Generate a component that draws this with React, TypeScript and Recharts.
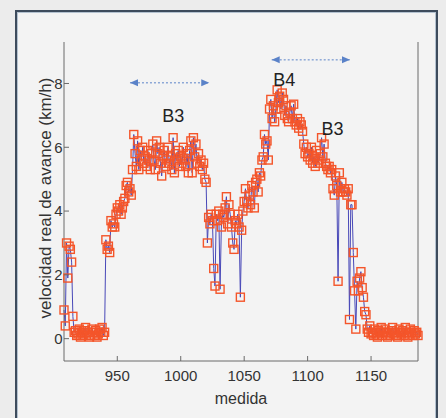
import React from 'react';
import { LineChart, Line, XAxis, YAxis, ReferenceLine, ReferenceDot } from 'recharts';

// Measurement index of the first sample
const medidaInicio = 908;

// velocidad real de avance (km/h), consecutive measurements
const tramoArranque = [0.9, 0.4, 3.0, 1.9, 2.9, 2.8, 2.4, 0.7]; // 908-915
const tramoParada1 = [
  0.2, 0.25, 0.1, 0.15, 0.3, 0.05, 0.2, 0.1, 0.25, 0.35,
  0.15, 0.2, 0.05, 0.1, 0.3, 0.2, 0.1, 0.25, 0.05, 0.15,
  0.3, 0.2, 0.35, 0.1, 0.2,
]; // 916-940
const tramoSubida1 = [
  3.1, 2.8, 2.9, 2.7, 3.7, 3.5, 3.6, 3.5, 3.9, 4.1,
  4.0, 4.2, 3.9, 4.1, 4.3, 4.4, 4.8, 4.9, 4.6, 4.7, 4.5,
]; // 941-961
const tramoMeseta1 = [
  5.3, 6.4, 5.8, 5.4, 6.2, 5.3, 5.9, 5.6, 6.0, 5.5,
  5.7, 5.4, 5.9, 5.6, 5.3, 5.8, 6.1, 5.6, 5.3, 6.2,
  5.8, 6.0, 5.5, 5.1, 5.7, 5.9, 5.4, 5.6, 6.0, 5.5,
  5.7, 5.3, 6.3, 5.2, 5.8, 5.6, 5.9, 5.4, 5.7, 5.5,
  6.0, 5.6, 5.4, 5.8, 5.2, 5.9, 6.2, 5.2, 6.3, 5.7,
  6.1, 5.5, 5.8, 5.4, 5.6, 5.3,
]; // 962-1017
const tramoValle = [
  5.5, 5.0, 4.9, 3.0, 3.8, 3.6, 3.9, 3.7, 2.2, 1.65,
  3.9, 3.7, 4.0, 1.55, 3.5, 3.9, 3.8, 4.1, 4.45, 3.6,
  4.2, 3.9, 3.5, 3.0, 2.8, 3.7, 3.6, 3.9, 3.5, 1.3,
  3.4, 4.0, 4.3,
]; // 1018-1050
const tramoSubida2 = [
  4.7, 4.3, 4.1, 4.5, 4.2, 4.8, 4.6, 4.1, 4.9, 5.0,
  4.6, 5.2, 5.1, 5.6, 5.7, 6.4, 6.1, 6.2, 5.6, 7.2,
  7.5, 6.9, 7.3, 6.8, 7.2, 7.8, 7.4, 7.6, 7.2, 7.7,
  7.5, 7.0, 7.3, 6.9, 6.8, 7.1, 7.3, 6.9, 7.35, 6.8,
  6.7, 6.9, 6.6, 6.8, 6.7, 6.5, 6.1, 5.8, 6.0, 5.7,
]; // 1051-1100
const tramoBajada = [
  5.8, 5.6, 6.0, 5.5, 5.7, 5.4, 5.9, 5.5, 5.6, 5.8,
  6.3, 5.7, 6.1, 5.5, 5.4, 5.3, 5.4, 5.2, 5.3, 4.7,
  4.5, 5.1, 4.8, 1.8, 5.2, 4.6, 4.9, 4.6, 4.7, 4.6,
  4.5, 4.7, 0.6, 4.2, 4.2, 2.7, 1.5, 0.3, 1.8, 1.5,
  1.9, 2.1, 1.6, 1.3, 0.85, 0.75, 0.3, 0.2, 0.4, 0.15,
]; // 1101-1150
const tramoParada2 = [
  0.2, 0.1, 0.3, 0.15, 0.05, 0.25, 0.2, 0.35, 0.1, 0.2,
  0.3, 0.15, 0.05, 0.2, 0.1, 0.25, 0.35, 0.15, 0.2, 0.1,
  0.05, 0.3, 0.2, 0.15, 0.25, 0.1, 0.35, 0.2, 0.05, 0.15,
  0.3, 0.2, 0.1, 0.25, 0.15, 0.2, 0.1,
]; // 1151-1187

const velocidad = [
  ...tramoArranque, ...tramoParada1, ...tramoSubida1, ...tramoMeseta1,
  ...tramoValle, ...tramoSubida2, ...tramoBajada, ...tramoParada2,
];

const xTicks = [950, 1000, 1050, 1100, 1150];
const yTicks = [0, 2, 4, 6, 8];
const xDomain = [908, 1187];
const yDomain = [-0.7, 9.3];

// Annotations
const flecha1 = { desde: 960, hasta: 1022.5, nivel: 8.02 };
const flecha2 = { desde: 1071.7, hasta: 1133.4, nivel: 8.74 };
const etiquetas = [
  { texto: 'B3', x: 994.1, y: 6.98 },
  { texto: 'B4', x: 1081.6, y: 8.13 },
  { texto: 'B3', x: 1119.7, y: 6.6 },
];

const data = velocidad.map((v, i) => ({ medida: medidaInicio + i, velocidad: v }));

const FONT = '"Liberation Sans", Arial, sans-serif';
const AXIS = '#6a6a6a';
const TXT = '#333333';
const ARROW = '#5a82c8';

const TickBottom = (p: any) => (
  <g>
    <line x1={p.x} x2={p.x} y1={p.y} y2={p.y - 5} stroke={AXIS} />
    <text x={p.x} y={p.y + 20} textAnchor="middle" fontSize={15} fill={TXT} fontFamily={FONT}>
      {p.payload.value}
    </text>
  </g>
);
const TickTop = (p: any) => (
  <line x1={p.x} x2={p.x} y1={p.y} y2={p.y + 5} stroke={AXIS} />
);
const TickLeft = (p: any) => (
  <g>
    <line x1={p.x} x2={p.x + 5} y1={p.y} y2={p.y} stroke={AXIS} />
    <text x={p.x - 1.5} y={p.y + 5.4} textAnchor="end" fontSize={15} fill={TXT} fontFamily={FONT}>
      {p.payload.value}
    </text>
  </g>
);
const TickRight = (p: any) => (
  <line x1={p.x} x2={p.x - 5} y1={p.y} y2={p.y} stroke={AXIS} />
);

const Cuadro = (props: any) => {
  const { cx, cy, index } = props;
  if (cx == null || cy == null) return <g key={`m${index}`} />;
  return (
    <rect key={`m${index}`} x={cx - 4} y={cy - 4} width={8} height={8}
      fill="none" stroke="#f4552a" strokeWidth={1.4} />
  );
};

const PuntaIzq = (props: any) => {
  const { cx, cy } = props;
  return <polygon points={`${cx},${cy} ${cx + 8},${cy - 3.5} ${cx + 8},${cy + 3.5}`} fill={ARROW} />;
};
const PuntaDer = (props: any) => {
  const { cx, cy } = props;
  return <polygon points={`${cx},${cy} ${cx - 8},${cy - 3.5} ${cx - 8},${cy + 3.5}`} fill={ARROW} />;
};
const Texto = (texto: string) => (props: any) => (
  <text x={props.cx} y={props.cy} dy="0.36em" textAnchor="middle" fontSize={18}
    fill="#222" fontFamily={FONT}>{texto}</text>
);

const YLabel = () => {
  const cx = 51;
  const cy = 198;
  return (
    <text x={cx} y={cy} transform={`rotate(-90, ${cx}, ${cy})`} textAnchor="middle"
      fontSize={17} fill={TXT} fontFamily={FONT}>
      velocidad real de avance (km/h)
    </text>
  );
};
const XLabel = (props: any) => {
  const vb = props.viewBox || {};
  return (
    <text x={vb.x + vb.width / 2} y={vb.y + 42.5} textAnchor="middle" fontSize={16}
      fill={TXT} fontFamily={FONT}>medida</text>
  );
};

export default function App() {
  return (
    <div style={{ position: 'absolute', left: 0, top: 0, width: 446, height: 418, background: '#ececec', overflow: 'hidden' }}>
      <div style={{
        position: 'absolute', left: 15, top: 10, width: 419, height: 420,
        border: '2px solid #3d4b5c', boxShadow: 'inset 0 0 0 1px #b4c2d0', background: '#f3f3f3',
      }} />
      <div style={{ position: 'absolute', left: 0, top: 0 }}>
        <LineChart width={446} height={418} data={data}
          margin={{ top: 42, right: 0, bottom: 0, left: 0 }}>
          <XAxis dataKey="medida" type="number" domain={xDomain} ticks={xTicks}
            height={57} tickSize={0} tickMargin={0} tickLine={false} tick={TickBottom}
            stroke={AXIS} interval={0} label={XLabel} />
          <XAxis xAxisId="top" orientation="top" dataKey="medida" type="number" domain={xDomain}
            ticks={xTicks} height={0} tickSize={0} tickMargin={0} tickLine={false} tick={TickTop}
            stroke={AXIS} interval={0} />
          <YAxis type="number" domain={yDomain} ticks={yTicks} width={64} tickSize={0}
            tickMargin={0} tickLine={false} tick={TickLeft} stroke={AXIS} interval={0} label={YLabel} />
          <YAxis yAxisId="right" orientation="right" type="number" domain={yDomain} ticks={yTicks}
            width={28} tickSize={0} tickMargin={0} tickLine={false} tick={TickRight} stroke={AXIS}
            interval={0} />
          <Line dataKey="velocidad" stroke="none" dot={Cuadro} activeDot={false}
            isAnimationActive={false} />
          <Line dataKey="velocidad" stroke="#4848b8" strokeWidth={1} dot={false} activeDot={false}
            isAnimationActive={false} />
          <ReferenceLine segment={[{ x: flecha1.desde, y: flecha1.nivel }, { x: flecha1.hasta, y: flecha1.nivel }]}
            stroke={ARROW} strokeDasharray="2 2" />
          <ReferenceLine segment={[{ x: flecha2.desde, y: flecha2.nivel }, { x: flecha2.hasta, y: flecha2.nivel }]}
            stroke={ARROW} strokeDasharray="2 2" />
          <ReferenceDot x={flecha1.desde} y={flecha1.nivel} shape={PuntaIzq} />
          <ReferenceDot x={flecha1.hasta} y={flecha1.nivel} shape={PuntaDer} />
          <ReferenceDot x={flecha2.desde} y={flecha2.nivel} shape={PuntaIzq} />
          <ReferenceDot x={flecha2.hasta} y={flecha2.nivel} shape={PuntaDer} />
          {etiquetas.map((e, i) => (
            <ReferenceDot key={`e${i}`} x={e.x} y={e.y} shape={Texto(e.texto)} />
          ))}
        </LineChart>
      </div>
    </div>
  );
}
